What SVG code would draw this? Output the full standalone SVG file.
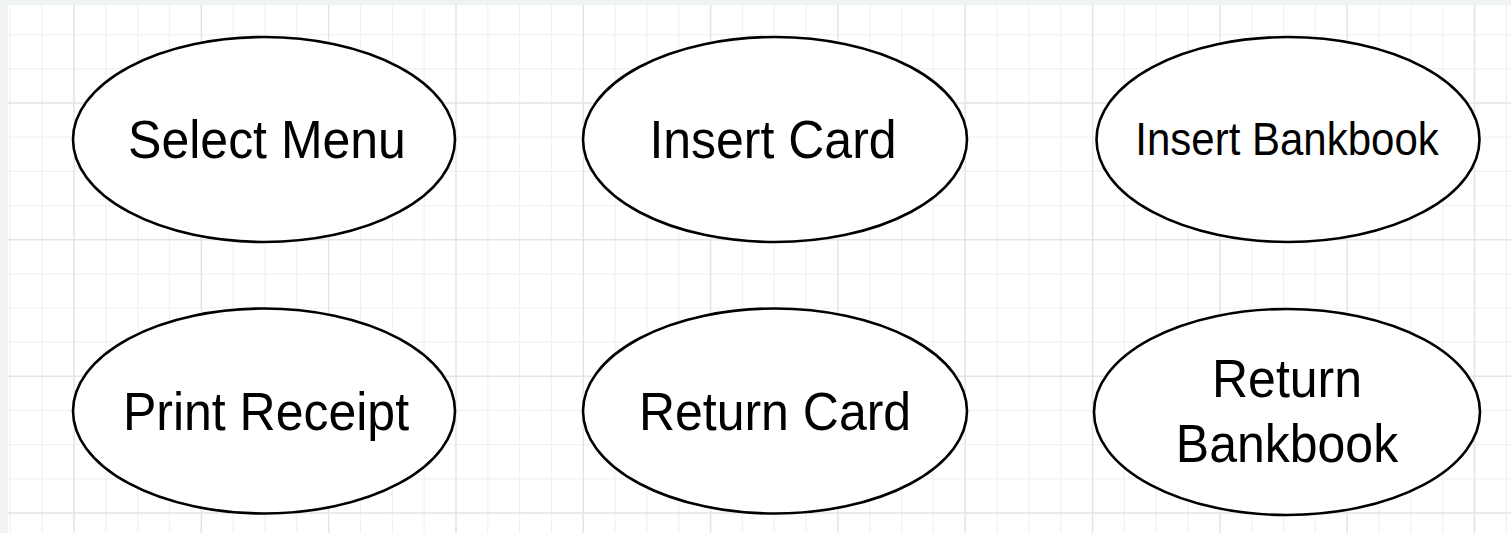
<svg xmlns="http://www.w3.org/2000/svg" width="1511" height="533" viewBox="0 0 1511 533">
<style>
.minor{stroke:#f1f1f1;stroke-width:1.2;fill:none}
.major{stroke:#e4e4e4;stroke-width:1.5;fill:none}
.node ellipse{fill:#ffffff;stroke:#000000;stroke-width:2.6}
.node text{font-family:"Liberation Sans",Arial,Helvetica,sans-serif;fill:#000000;text-anchor:middle}
</style>
<rect x="0" y="0" width="1511" height="533" fill="#eff3f4"/>
<rect x="8" y="5" width="1503" height="528" fill="#ffffff"/>
<g id="grid">
<path class="minor" d="M10.3 5V533M42.2 5V533M105.8 5V533M137.7 5V533M169.5 5V533M233.2 5V533M265 5V533M296.8 5V533M360.5 5V533M392.3 5V533M424.1 5V533M487.8 5V533M519.6 5V533M551.5 5V533M615.1 5V533M647 5V533M678.8 5V533M742.4 5V533M774.3 5V533M806.1 5V533M869.8 5V533M901.6 5V533M933.4 5V533M997.1 5V533M1028.9 5V533M1060.7 5V533M1124.4 5V533M1156.2 5V533M1188.1 5V533M1251.7 5V533M1283.5 5V533M1315.4 5V533M1379 5V533M1410.9 5V533M1442.7 5V533M1506.4 5V533
M8 34.7H1511M8 68.8H1511M8 137.2H1511M8 171.3H1511M8 205.5H1511M8 273.9H1511M8 308H1511M8 342.2H1511M8 410.5H1511M8 444.7H1511M8 478.8H1511"/>
<path class="major" d="M74 5V533M201.3 5V533M328.6 5V533M456 5V533M583.3 5V533M710.6 5V533M837.9 5V533M965.2 5V533M1092.6 5V533M1219.9 5V533M1347.2 5V533M1474.5 5V533
M8 103H1511M8 239.7H1511M8 376.3H1511M8 513H1511"/>
</g>
<g id="connectors"></g>
<g id="select-menu" class="node">
<ellipse cx="264" cy="139.5" rx="191" ry="102.5"/>
<text transform="translate(267,158) scale(1,1.08)" font-size="50">Select Menu</text>
</g>
<g id="insert-card" class="node">
<ellipse cx="775" cy="139.5" rx="192" ry="102.5"/>
<text transform="translate(773,158) scale(1,1.08)" font-size="50">Insert Card</text>
</g>
<g id="insert-bankbook" class="node">
<ellipse cx="1288" cy="139.5" rx="191.5" ry="102.5"/>
<text transform="translate(1287,155) scale(1,1.08)" font-size="42">Insert Bankbook</text>
</g>
<g id="print-receipt" class="node">
<ellipse cx="264" cy="411" rx="191" ry="102.5"/>
<text transform="translate(266,430) scale(1,1.08)" font-size="50">Print Receipt</text>
</g>
<g id="return-card" class="node">
<ellipse cx="775" cy="411" rx="192" ry="102.5"/>
<text transform="translate(775,430) scale(1,1.08)" font-size="50">Return Card</text>
</g>
<g id="return-bankbook" class="node">
<ellipse cx="1287" cy="412" rx="193" ry="103"/>
<text transform="translate(1287,397) scale(1,1.08)" font-size="50">Return</text>
<text transform="translate(1287,462) scale(1,1.08)" font-size="50">Bankbook</text>
</g>
</svg>
